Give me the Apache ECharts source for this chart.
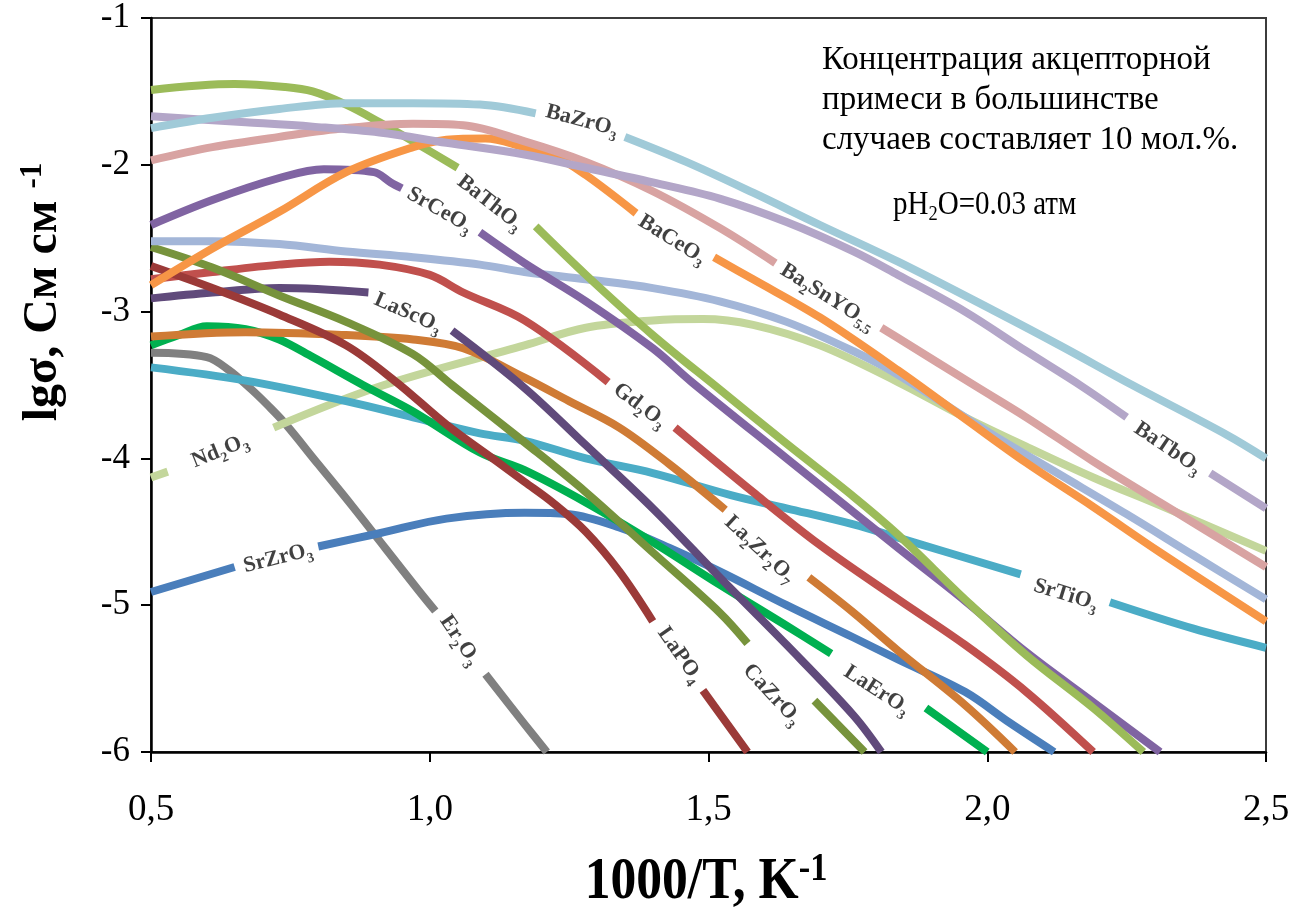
<!DOCTYPE html>
<html>
<head>
<meta charset="utf-8">
<script src="https://cdn.jsdelivr.net/npm/echarts@6/dist/echarts.min.js"></script>
<style>
  html, body { margin: 0; padding: 0; background: #ffffff; }
  #chart { width: 1306px; height: 915px; }
</style>
</head>
<body>
<div id="chart"></div>
<script>
// Axis ranges and ticks
const X_MIN = 0.5, X_MAX = 2.5, X_STEP = 0.5;
const Y_MIN = -6, Y_MAX = -1, Y_STEP = 1;

// Conductivity curves: lg(sigma) vs 1000/T. Each curve is a list of segments;
// the break between segments is where the inline formula label sits.
const baZrO3 = [
  [[0.5,-1.75],[0.61,-1.68],[0.73,-1.62],[0.85,-1.58],[0.97,-1.58],[1.09,-1.59],[1.19,-1.65]],
  [[1.35,-1.81],[1.46,-1.98],[1.58,-2.19],[1.70,-2.41],[1.84,-2.66],[2.01,-2.99],[2.13,-3.23],[2.26,-3.50],[2.43,-3.84],[2.5,-4.0]]
];
const baTbO3 = [
  [[0.5,-1.67],[0.67,-1.71],[0.79,-1.74],[0.91,-1.78],[1.03,-1.85],[1.17,-1.93],[1.28,-2.02],[1.40,-2.12],[1.52,-2.23],[1.64,-2.39],[1.76,-2.59],[1.84,-2.75],[1.96,-3.00],[2.07,-3.27],[2.17,-3.51],[2.25,-3.72]],
  [[2.40,-4.10],[2.5,-4.34]]
];
const ba2SnYO55 = [
  [[0.5,-1.97],[0.61,-1.88],[0.73,-1.81],[0.85,-1.75],[0.97,-1.72],[1.06,-1.73],[1.17,-1.84],[1.28,-1.98],[1.40,-2.18],[1.52,-2.43],[1.62,-2.67]],
  [[1.81,-3.11],[1.84,-3.18],[1.98,-3.51],[2.07,-3.72],[2.19,-4.02],[2.31,-4.30],[2.5,-4.74]]
];
const baCeO3 = [
  [[0.5,-2.82],[0.61,-2.57],[0.73,-2.32],[0.85,-2.05],[0.97,-1.88],[1.03,-1.83],[1.10,-1.82],[1.17,-1.88],[1.22,-1.93],[1.28,-2.07],[1.37,-2.33]],
  [[1.51,-2.63],[1.58,-2.78],[1.70,-3.04],[1.84,-3.40],[1.96,-3.73],[2.07,-4.03],[2.19,-4.33],[2.31,-4.64],[2.5,-5.11]]
];
const baThO3 = [
  [[0.5,-1.49],[0.65,-1.45],[0.74,-1.47],[0.79,-1.50],[0.85,-1.59],[0.91,-1.71],[0.97,-1.84],[1.05,-2.02]],
  [[1.19,-2.42],[1.28,-2.75],[1.40,-3.16],[1.52,-3.53],[1.64,-3.90],[1.76,-4.26],[1.84,-4.52],[1.96,-4.96],[2.07,-5.34],[2.19,-5.70],[2.28,-6.0]]
];
const srCeO3 = [
  [[0.5,-2.41],[0.61,-2.24],[0.73,-2.09],[0.81,-2.03],[0.90,-2.05],[0.93,-2.12],[0.95,-2.16]],
  [[1.09,-2.46],[1.17,-2.67],[1.28,-2.93],[1.40,-3.25],[1.47,-3.48],[1.64,-4.00],[1.84,-4.61],[1.96,-4.97],[2.07,-5.32],[2.19,-5.66],[2.31,-6.0]]
];
const unlabeled = [
  [[0.5,-2.52],[0.61,-2.52],[0.73,-2.54],[0.85,-2.59],[0.97,-2.63],[1.09,-2.68],[1.17,-2.73],[1.28,-2.78],[1.40,-2.84],[1.52,-2.93],[1.64,-3.07],[1.76,-3.27],[1.84,-3.43],[2.01,-3.84],[2.13,-4.11],[2.25,-4.38],[2.37,-4.66],[2.5,-4.96]]
];
const caZrO3 = [
  [[0.5,-2.56],[0.61,-2.70],[0.73,-2.89],[0.85,-3.07],[0.97,-3.29],[1.04,-3.50],[1.17,-3.89],[1.28,-4.23],[1.40,-4.64],[1.52,-5.05],[1.57,-5.26]],
  [[1.69,-5.65],[1.78,-6.0]]
];
const laPO4 = [
  [[0.5,-2.69],[0.61,-2.84],[0.73,-3.02],[0.85,-3.23],[0.94,-3.48],[1.03,-3.77],[1.12,-4.02],[1.17,-4.16],[1.22,-4.30],[1.28,-4.50],[1.34,-4.77],[1.40,-5.11]],
  [[1.49,-5.58],[1.57,-6.0]]
];
const gd2O3 = [
  [[0.5,-2.78],[0.61,-2.73],[0.73,-2.68],[0.82,-2.66],[0.91,-2.68],[1.00,-2.75],[1.06,-2.87],[1.17,-3.06],[1.32,-3.48]],
  [[1.44,-3.79],[1.58,-4.23],[1.70,-4.59],[1.84,-4.96],[1.96,-5.27],[2.07,-5.59],[2.19,-6.0]]
];
const laScO3 = [
  [[0.5,-2.91],[0.61,-2.87],[0.73,-2.84],[0.89,-2.87]],
  [[1.04,-3.13],[1.17,-3.52],[1.28,-3.91],[1.40,-4.34],[1.52,-4.81],[1.64,-5.27],[1.76,-5.75],[1.81,-6.0]]
];
const la2Zr2O7 = [
  [[0.5,-3.17],[0.67,-3.14],[0.85,-3.16],[0.97,-3.19],[1.06,-3.25],[1.17,-3.45],[1.25,-3.61],[1.34,-3.79],[1.43,-4.04],[1.53,-4.35]],
  [[1.68,-4.81],[1.76,-5.05],[1.84,-5.31],[1.96,-5.68],[2.05,-6.0]]
];
const laErO3 = [
  [[0.5,-3.23],[0.55,-3.16],[0.60,-3.10],[0.67,-3.12],[0.73,-3.19],[0.79,-3.31],[0.88,-3.50],[0.97,-3.68],[1.09,-3.96],[1.17,-4.08],[1.28,-4.30],[1.40,-4.57],[1.52,-4.86],[1.64,-5.14],[1.72,-5.33]],
  [[1.89,-5.70],[2.0,-6.0]]
];
const er2O3 = [
  [[0.5,-3.28],[0.60,-3.31],[0.64,-3.40],[0.68,-3.53],[0.71,-3.64],[0.74,-3.76],[0.80,-4.04],[0.86,-4.32],[0.92,-4.61],[0.98,-4.90],[1.01,-5.04]],
  [[1.10,-5.47],[1.17,-5.81],[1.21,-6.0]]
];
const srTiO3 = [
  [[0.5,-3.38],[0.67,-3.47],[0.85,-3.61],[0.97,-3.72],[1.09,-3.83],[1.17,-3.88],[1.28,-4.00],[1.40,-4.10],[1.54,-4.25],[1.64,-4.34],[1.76,-4.45],[1.84,-4.54],[2.06,-4.79]],
  [[2.22,-4.98],[2.37,-5.16],[2.5,-5.29]]
];
const nd2O3 = [
  [[0.5,-4.13],[0.53,-4.09]],
  [[0.72,-3.79],[0.91,-3.51],[1.17,-3.23],[1.28,-3.11],[1.40,-3.06],[1.49,-3.05],[1.58,-3.09],[1.70,-3.23],[1.84,-3.48],[1.96,-3.72],[2.07,-3.92],[2.19,-4.13],[2.31,-4.32],[2.5,-4.63]]
];
const srZrO3 = [
  [[0.5,-4.91],[0.65,-4.74]],
  [[0.80,-4.60],[0.91,-4.51],[1.03,-4.41],[1.17,-4.37],[1.25,-4.38],[1.34,-4.47],[1.43,-4.61],[1.52,-4.77],[1.64,-5.00],[1.76,-5.22],[1.84,-5.37],[1.96,-5.59],[2.04,-5.80],[2.12,-6.0]]
];

// Inline formula labels: anchor in data units, text angle in degrees
const curveLabels = [
  { text: 'BaZrO3',     x: 1.273, y: -1.70, rotate: -15 },
  { text: 'BaThO3',     x: 1.108, y: -2.26, rotate: -38 },
  { text: 'SrCeO3',     x: 1.018, y: -2.31, rotate: -30 },
  { text: 'BaCeO3',     x: 1.435, y: -2.51, rotate: -32 },
  { text: 'Ba2SnYO5.5', x: 1.714, y: -2.90, rotate: -32 },
  { text: 'LaScO3',     x: 0.961, y: -3.01, rotate: -24 },
  { text: 'Gd2O3',      x: 1.377, y: -3.64, rotate: -37 },
  { text: 'La2Zr2O7',   x: 1.592, y: -4.62, rotate: -43 },
  { text: 'LaPO4',      x: 1.449, y: -5.34, rotate: -55 },
  { text: 'CaZrO3',     x: 1.614, y: -5.61, rotate: -47 },
  { text: 'LaErO3',     x: 1.802, y: -5.58, rotate: -33 },
  { text: 'Er2O3',      x: 1.054, y: -5.24, rotate: -56 },
  { text: 'SrZrO3',     x: 0.728, y: -4.68, rotate: 14 },
  { text: 'Nd2O3',      x: 0.624, y: -3.95, rotate: 22 },
  { text: 'SrTiO3',     x: 2.141, y: -4.93, rotate: -17 },
  { text: 'BaTbO3',     x: 2.324, y: -3.93, rotate: -34 }
];

// Draw order and colours
const curves = [
  { name: 'Er2O3',      segs: er2O3,     color: '#808080' },
  { name: 'SrZrO3',     segs: srZrO3,    color: '#4a7ebb' },
  { name: 'Nd2O3',      segs: nd2O3,     color: '#c3d69b' },
  { name: 'SrTiO3',     segs: srTiO3,    color: '#4bacc6' },
  { name: 'LaErO3',     segs: laErO3,    color: '#00b050' },
  { name: 'La2Zr2O7',   segs: la2Zr2O7,  color: '#cf7b35' },
  { name: 'LaScO3',     segs: laScO3,    color: '#604a7b' },
  { name: 'Gd2O3',      segs: gd2O3,     color: '#c0504d' },
  { name: 'LaPO4',      segs: laPO4,     color: '#9b3a38' },
  { name: 'CaZrO3',     segs: caZrO3,    color: '#77933c' },
  { name: 'unlabeled',  segs: unlabeled, color: '#a3b6d8' },
  { name: 'SrCeO3',     segs: srCeO3,    color: '#8064a2' },
  { name: 'BaThO3',     segs: baThO3,    color: '#9bbb59' },
  { name: 'BaCeO3',     segs: baCeO3,    color: '#f79646' },
  { name: 'Ba2SnYO5.5', segs: ba2SnYO55, color: '#d8a3a2' },
  { name: 'BaTbO3',     segs: baTbO3,    color: '#b3a6c8' },
  { name: 'BaZrO3',     segs: baZrO3,    color: '#a0cad8' }
];

const SERIF = '"Liberation Serif", "Times New Roman", serif';

function joinSegments(segs) {
  const out = [];
  segs.forEach((s, i) => {
    if (i > 0) out.push(['-', '-']);
    s.forEach(p => out.push(p));
  });
  return out;
}

// Digits (and the decimal point) in a formula are set as subscripts
function formulaRich(text) {
  return text.replace(/[0-9.]+|[^0-9.]+/g, m => /[0-9]/.test(m) ? '{s|' + m + '}' : '{b|' + m + '}');
}

const formulaStyles = {
  b: { fontFamily: SERIF, fontWeight: 'bold', fontSize: 22, color: '#111', lineHeight: 30, verticalAlign: 'middle' },
  s: { fontFamily: SERIF, fontWeight: 'bold', fontSize: 14, color: '#111', lineHeight: 16, verticalAlign: 'bottom' }
};

const lineSeries = curves.map(c => ({
  type: 'line',
  name: c.name,
  data: joinSegments(c.segs),
  symbol: 'none',
  showSymbol: false,
  smooth: 0.35,
  connectNulls: false,
  silent: true,
  lineStyle: { color: c.color, width: 8, cap: 'butt', join: 'round' },
  itemStyle: { color: c.color },
  z: 2
}));

const labelSeries = {
  type: 'scatter',
  name: 'labels',
  symbolSize: 0,
  silent: true,
  z: 5,
  data: curveLabels.map(l => ({
    value: [l.x, l.y],
    label: {
      show: true,
      position: 'inside',
      rotate: l.rotate,
      align: 'center',
      verticalAlign: 'middle',
      formatter: formulaRich(l.text),
      rich: formulaStyles
    }
  }))
};

const chart = echarts.init(document.getElementById('chart'), null, { renderer: 'canvas' });

chart.setOption({
  animation: false,
  backgroundColor: '#ffffff',
  grid: {
    left: 151, right: 40, top: 18, bottom: 163,
    containLabel: false,
    outerBoundsMode: 'none',
    show: true,
    borderColor: '#3c3c3c',
    borderWidth: 2,
    backgroundColor: 'transparent'
  },
  xAxis: {
    type: 'value',
    min: X_MIN, max: X_MAX, interval: X_STEP,
    axisLine: { show: true, onZero: false, lineStyle: { color: '#000', width: 2.5 } },
    axisTick: { show: true, inside: false, length: 10, lineStyle: { color: '#000', width: 2 } },
    splitLine: { show: false },
    axisLabel: {
      margin: 40,
      fontFamily: SERIF,
      fontSize: 37,
      color: '#000',
      formatter: v => v.toFixed(1).replace('.', ',')
    }
  },
  yAxis: {
    type: 'value',
    min: Y_MIN, max: Y_MAX, interval: Y_STEP,
    axisLine: { show: true, onZero: false, lineStyle: { color: '#000', width: 2.5 } },
    axisTick: { show: true, inside: false, length: 10, lineStyle: { color: '#000', width: 2 } },
    splitLine: { show: false },
    axisLabel: {
      margin: 21,
      fontFamily: SERIF,
      fontSize: 35,
      color: '#000',
      align: 'right',
      formatter: v => String(v)
    }
  },
  graphic: [
    {
      type: 'text', x: 44, y: 292, rotation: Math.PI / 2, z: 20,
      style: {
        text: '{a|lgσ, См см }{p|-1}',
        align: 'center', verticalAlign: 'middle',
        rich: {
          a: { fontFamily: SERIF, fontWeight: 'bold', fontSize: 48, fill: '#000', lineHeight: 54, verticalAlign: 'middle' },
          p: { fontFamily: SERIF, fontWeight: 'bold', fontSize: 31, fill: '#000', lineHeight: 54, verticalAlign: 'top' }
        }
      }
    },
    {
      type: 'text', x: 706, y: 882, scaleX: 0.86, z: 20,
      style: {
        text: '{a|1000/T, K}{p|-1}',
        align: 'center', verticalAlign: 'middle',
        rich: {
          a: { fontFamily: SERIF, fontWeight: 'bold', fontSize: 60, fill: '#000', lineHeight: 64, verticalAlign: 'middle' },
          p: { fontFamily: SERIF, fontWeight: 'bold', fontSize: 40, fill: '#000', lineHeight: 64, verticalAlign: 'top' }
        }
      }
    },
    {
      type: 'text', x: 822, y: 100, z: 20,
      style: {
        text: 'Концентрация акцепторной\nпримеси в большинстве\nслучаев составляет 10 мол.%.',
        fontFamily: SERIF, fontSize: 33, fill: '#000', lineHeight: 40,
        align: 'left', verticalAlign: 'middle'
      }
    },
    {
      type: 'text', x: 893, y: 205, scaleX: 0.88, z: 20,
      style: {
        text: '{a|pH}{s|2}{a|O=0.03 атм}',
        align: 'left', verticalAlign: 'middle',
        rich: {
          a: { fontFamily: SERIF, fontSize: 33, fill: '#000', lineHeight: 40, verticalAlign: 'middle' },
          s: { fontFamily: SERIF, fontSize: 21, fill: '#000', lineHeight: 30, verticalAlign: 'bottom' }
        }
      }
    }
  ],
  series: lineSeries.concat([labelSeries])
});
</script>
</body>
</html>
